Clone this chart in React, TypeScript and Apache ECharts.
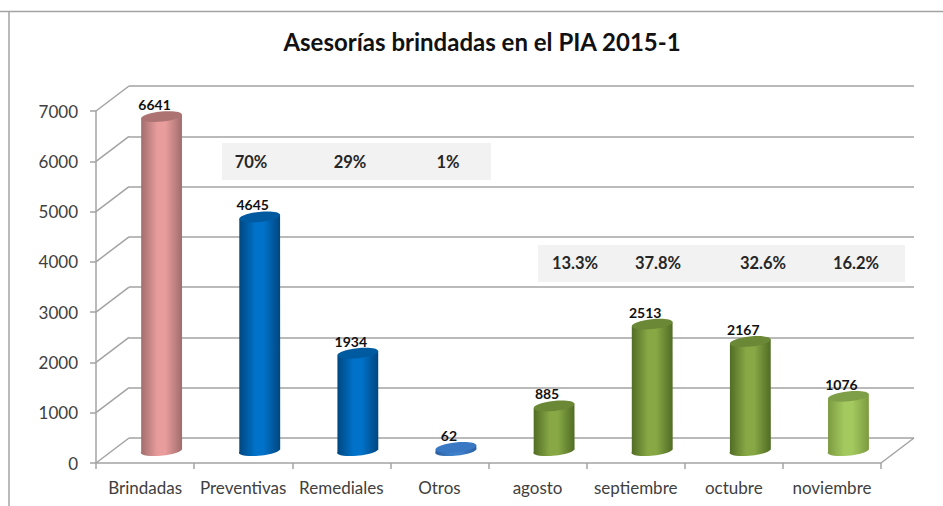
import React, { useEffect, useRef } from "react";
import * as echarts from "echarts";

const titleText = "Asesorías brindadas en el PIA 2015-1";
const categories = ["Brindadas", "Preventivas", "Remediales", "Otros", "agosto", "septiembre", "octubre", "noviembre"];
const values = [6641, 4645, 1934, 62, 885, 2513, 2167, 1076];
const yTicks = [0, 1000, 2000, 3000, 4000, 5000, 6000, 7000];
const shareLabels = ["70%", "29%", "1%"];
const monthLabels = ["13.3%", "37.8%", "32.6%", "16.2%"];

const sharePositions = [251, 350, 448];
const monthPositions = [575, 658, 763, 856];

const pink = { edge: "#a06c6c", mid: "#e89c9c", top: "#ad7272" };
const blue = { edge: "#00467f", mid: "#0072c9", top: "#005a9f" };
const otros = { edge: "#2a5f9f", mid: "#3f80cc", top: "#3a78c4" };
const green = { edge: "#506c24", mid: "#87a845", top: "#6a8835" };
const lime = { edge: "#7c9a40", mid: "#a4c95f", top: "#7f9e48" };
const barColors = [pink, blue, blue, otros, green, green, green, lime];

const FONT = "Lato, 'Open Sans', sans-serif";
const GRID = "#a3a3a3";
const DX = 33;
const DY = -25;
const RX = 20.5;
const RY = 5;
const TILT = 6;

function renderBar(params: any, api: any) {
  const i = api.value(0);
  const v = api.value(1);
  const [x, yTop] = api.coord([i, v]);
  const [, yBase] = api.coord([i, 0]);
  const cx = x + DX / 2;
  const ty = yTop + DY / 2;
  const by = yBase + DY / 2 - 1;
  const c = Math.cos((TILT * Math.PI) / 180) * RX;
  const s = Math.sin((TILT * Math.PI) / 180) * RX;
  const d =
    `M${cx - c} ${ty + s}L${cx - c} ${by + s}` +
    `A${RX} ${RY} ${-TILT} 0 0 ${cx + c} ${by - s}` +
    `L${cx + c} ${ty - s}Z`;
  const col = barColors[i];
  return {
    type: "group",
    children: [
      {
        type: "path",
        shape: { pathData: d },
        style: {
          fill: {
            type: "linear", x: 0, y: 0, x2: 1, y2: 0,
            colorStops: [
              { offset: 0, color: col.edge },
              { offset: 0.4, color: col.mid },
              { offset: 0.6, color: col.mid },
              { offset: 1, color: col.edge },
            ],
          },
        },
      },
      {
        type: "ellipse",
        x: cx,
        y: ty,
        rotation: (TILT * Math.PI) / 180,
        shape: { cx: 0, cy: 0, rx: RX, ry: RY },
        style: { fill: col.top },
      },
      {
        type: "text",
        x: cx - 7,
        y: ty - 12,
        style: {
          text: String(v),
          font: `bold 14px ${FONT}`,
          fill: "#111",
          align: "center",
          verticalAlign: "middle",
        },
      },
    ],
  };
}

function renderDepth(params: any, api: any) {
  const y = api.coord([0, api.value(0)])[1];
  const sys = params.coordSys;
  const style = { stroke: GRID, lineWidth: 1.5, fill: "none" };
  const children: any[] = [
    { type: "line", shape: { x1: sys.x, y1: y, x2: sys.x + DX, y2: y + DY }, style },
  ];
  if (api.value(0) === 0) {
    const xr = sys.x + sys.width;
    children.push({ type: "line", shape: { x1: xr, y1: y, x2: xr + DX, y2: y + DY }, style });
  }
  return { type: "group", children };
}

function textEl(text: string, x: number, y: number) {
  return {
    type: "text",
    x,
    y,
    z: 5,
    style: {
      text,
      font: `bold 16.5px ${FONT}`,
      fill: "#262626",
      align: "center",
      verticalAlign: "middle",
    },
  };
}

export default function App() {
  const ref = useRef<HTMLDivElement>(null);
  useEffect(() => {
    const chart = echarts.init(ref.current!, undefined, { renderer: "svg" });
    chart.setOption({
      animation: false,
      backgroundColor: "#fff",
      title: {
        text: titleText,
        left: 477,
        top: 24,
        textAlign: "center",
        textStyle: { fontFamily: FONT, fontWeight: "bold", fontSize: 24, color: "#111" },
      },
      grid: [
        { left: 96, right: 62, top: 111, bottom: 43 },
        { left: 96 + DX, right: 62 - DX, top: 111 + DY, bottom: 43 - DY },
      ],
      xAxis: [
        {
          gridIndex: 0,
          type: "category",
          data: categories,
          axisLine: { show: true, lineStyle: { color: GRID, width: 1.5 } },
          axisTick: { show: true, alignWithLabel: false, length: 6, lineStyle: { color: GRID, width: 1.5 } },
          axisLabel: { margin: 16, interval: 0, fontFamily: FONT, fontSize: 17, color: "#404040" },
          splitLine: { show: false },
        },
        { gridIndex: 1, type: "category", data: categories, show: false },
      ],
      yAxis: [
        {
          gridIndex: 0,
          type: "value",
          min: 0,
          max: 7000,
          interval: 1000,
          axisLine: { show: true, lineStyle: { color: GRID, width: 1.5 } },
          axisTick: { show: true, length: 6, lineStyle: { color: GRID, width: 1.5 } },
          axisLabel: { margin: 18, fontFamily: FONT, fontSize: 17, color: "#404040", formatter: (v: number) => String(v) },
          splitLine: { show: false },
        },
        {
          gridIndex: 1,
          type: "value",
          min: 0,
          max: 7000,
          interval: 1000,
          axisLine: { show: false },
          axisTick: { show: false },
          axisLabel: { show: false },
          splitLine: { show: true, lineStyle: { color: GRID, width: 1.5 } },
        },
      ],
      graphic: [
        { type: "line", silent: true, shape: { x1: 0, y1: 11.5, x2: 943, y2: 11.5 }, style: { stroke: GRID, lineWidth: 1.5 } },
        { type: "line", silent: true, shape: { x1: 9, y1: 11.5, x2: 9, y2: 506 }, style: { stroke: GRID, lineWidth: 1.5 } },
        { type: "rect", z: 4, shape: { x: 222, y: 143, width: 269, height: 37 }, style: { fill: "#f2f2f2" } },
        { type: "rect", z: 4, shape: { x: 538, y: 245, width: 367, height: 37 }, style: { fill: "#f2f2f2" } },
        ...shareLabels.map((t, i) => textEl(t, sharePositions[i], 162)),
        ...monthLabels.map((t, i) => textEl(t, monthPositions[i], 263)),
      ],
      series: [
        {
          type: "custom",
          xAxisIndex: 0,
          yAxisIndex: 0,
          renderItem: renderDepth,
          data: yTicks.map((v) => [v]),
          encode: { y: 0 },
          silent: true,
          z: 1,
        },
        {
          type: "custom",
          xAxisIndex: 0,
          yAxisIndex: 0,
          renderItem: renderBar,
          data: values.map((v, i) => [i, v]),
          encode: { x: 0, y: 1 },
          silent: true,
          z: 6,
        },
      ],
    });
    return () => chart.dispose();
  }, []);
  return <div ref={ref} style={{ position: "fixed", left: 0, top: 0, width: 943, height: 506 }} />;
}
